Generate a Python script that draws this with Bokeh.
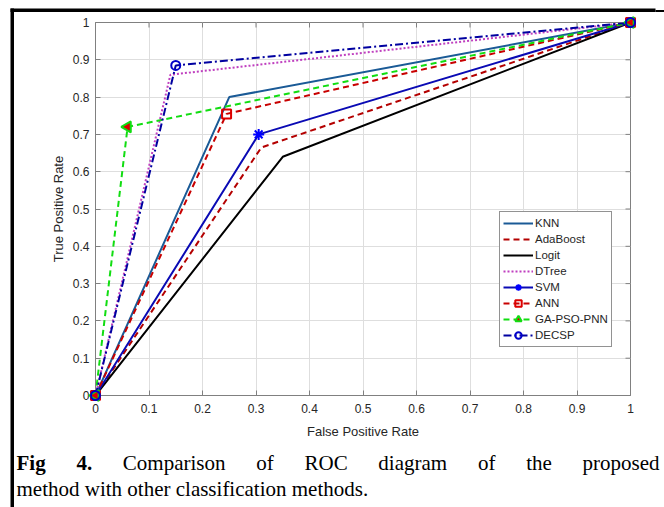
import numpy as np
from bokeh.plotting import figure
from bokeh.models import Range1d, Legend, LegendItem, FixedTicker
from bokeh.core.properties import value
from bokeh.embed import file_html
from bokeh.resources import INLINE

# ---------------- data ----------------
methods = ["KNN", "AdaBoost", "Logit", "DTree", "SVM", "ANN", "GA-PSO-PNN", "DECSP"]
fpr_knn = [0, 0.25, 1];    tpr_knn = [0, 0.80, 1]
fpr_ada = [0, 0.31, 1];    tpr_ada = [0, 0.665, 1]
fpr_logit = [0, 0.35, 1];  tpr_logit = [0, 0.64, 1]
fpr_dtree = [0, 0.14, 1];  tpr_dtree = [0, 0.86, 1]
fpr_svm = [0, 0.305, 1];   tpr_svm = [0, 0.70, 1]
fpr_ann = [0, 0.245, 1];   tpr_ann = [0, 0.755, 1]
fpr_ga = [0, 0.06, 1];     tpr_ga = [0, 0.72, 1]
fpr_decsp = [0, 0.15, 1];  tpr_decsp = [0, 0.885, 1]

ticks = [0, 0.1, 0.2, 0.3, 0.4, 0.5, 0.6, 0.7, 0.8, 0.9, 1]
tick_labels = ["0", "0.1", "0.2", "0.3", "0.4", "0.5", "0.6", "0.7", "0.8", "0.9", "1"]
x_title = "False Positive Rate"
y_title = "True Positive Rate"
caption_bold = ["Fig", "4."]
caption_line1 = ["Comparison", "of", "ROC", "diagram", "of", "the", "proposed"]
caption_line2 = "method with other classification methods."

# ---------------- geometry ----------------
W, H = 664, 507
L, R, T, B = 95, 630, 22, 395


def xd(px):
    return (px - L) / (R - L)


def yd(py):
    return (B - py) / (B - T)


p = figure(width=W, height=H, x_range=Range1d(0, 1), y_range=Range1d(0, 1),
           output_backend="svg", toolbar_location=None,
           min_border_left=L, min_border_right=W - R,
           min_border_top=T, min_border_bottom=H - B)
p.background_fill_color = "white"
p.border_fill_color = "white"
axis_color = "#808080"
lab_color = "#262626"
p.outline_line_color = axis_color

for ax in [p.xaxis[0], p.yaxis[0]]:
    ax.ticker = FixedTicker(ticks=ticks)
    ax.major_label_overrides = {t: s for t, s in zip(ticks, tick_labels)}
    ax.major_tick_in = 5
    ax.major_tick_out = 0
    ax.minor_tick_line_color = None
    ax.axis_line_color = axis_color
    ax.major_tick_line_color = axis_color
    ax.major_label_text_font = "Liberation Sans"
    ax.major_label_text_font_size = "12px"
    ax.major_label_text_color = lab_color
    ax.axis_label_text_font = "Liberation Sans"
    ax.axis_label_text_font_size = "13px"
    ax.axis_label_text_font_style = "normal"
    ax.axis_label_text_color = lab_color
p.xaxis.axis_label = x_title
p.yaxis.axis_label = y_title
p.xaxis.major_label_standoff = 8
p.yaxis.major_label_standoff = 6
p.xaxis.axis_label_standoff = 8
p.yaxis.axis_label_standoff = 4

p.xgrid.ticker = FixedTicker(ticks=ticks)
p.ygrid.ticker = FixedTicker(ticks=ticks)
p.xgrid.grid_line_color = "#dedede"
p.ygrid.grid_line_color = "#dedede"

# tick marks on the top and right edges of the box (inward, 5 px)
n = len(ticks)
p.segment(x0=ticks, y0=[1] * n, x1=ticks, y1=[1 - 5 / (B - T)] * n,
          line_color=axis_color, line_width=1)
p.segment(x0=[1] * n, y0=ticks, x1=[1 - 5 / (R - L)] * n, y1=ticks,
          line_color=axis_color, line_width=1)

# ---------------- series ----------------
series = [
    (fpr_knn, tpr_knn, "#1a5a96", "solid", None, None, None),
    (fpr_ada, tpr_ada, "#b40000", "6 4", None, None, None),
    (fpr_logit, tpr_logit, "#000000", "solid", None, None, None),
    (fpr_dtree, tpr_dtree, "#bf3fbf", "2 2", None, None, None),
    (fpr_svm, tpr_svm, "#0a0ab4", "solid", "asterisk", "#0000ff", None),
    (fpr_ann, tpr_ann, "#c80000", "6 4", "square", "#dd0000", None),
    (fpr_ga, tpr_ga, "#11dd11", "6 4", "triangle", "#11dd11", "#e00000"),
    (fpr_decsp, tpr_decsp, "#0000a0", "8 3 2 3", "circle", "#0000c8", None),
]

items = []
for name, (xs, ys, col, dash, mk, mcol, mfill) in zip(methods, series):
    rends = [p.line(xs, ys, line_color=col, line_width=2, line_dash=dash)]
    if mk is not None:
        angle = np.pi / 2 if mk == "triangle" else 0
        size = 11 if mk in ("asterisk", "triangle") else 9
        sr = p.scatter(xs, ys, marker=mk, size=size, angle=angle,
                       line_color=mcol, line_width=2,
                       fill_color=mfill if mfill else None,
                       fill_alpha=1 if mfill else 0, level="overlay")
        rends.append(sr)
    items.append(LegendItem(label=name, renderers=rends))

legend = Legend(items=items, location=(404, 48))
legend.border_line_color = "#262626"
legend.border_line_width = 1
legend.background_fill_color = "white"
legend.background_fill_alpha = 1
legend.label_text_font = "Liberation Sans"
legend.label_text_font_size = "11.5px"
legend.label_text_color = lab_color
legend.glyph_width = 30
legend.glyph_height = 16
legend.label_height = 16
legend.label_standoff = 2
legend.spacing = 0
legend.padding = 3
legend.margin = 0
p.add_layout(legend)

# ---------------- black frame rules of the figure box (pixel positions) ----------------
rules_l = [10, 655, 10]
rules_r = [655, W + 2, 13.5]
rules_t = [8, 9.5, 8]
rules_b = [11.5, 11.5, H + 2]
p.quad(left=[xd(v) for v in rules_l], right=[xd(v) for v in rules_r],
       top=[yd(v) for v in rules_t], bottom=[yd(v) for v in rules_b],
       fill_color="black", line_color=None, level="overlay")

# ---------------- caption (justified first line) ----------------
fs = 21
reg = {" ": 250, ".": 250, "C": 667, "O": 722, "R": 667, "a": 444, "c": 444, "d": 500,
       "e": 444, "f": 333, "g": 500, "h": 500, "i": 278, "l": 278, "m": 778, "n": 500,
       "o": 500, "p": 500, "r": 333, "s": 389, "t": 278, "w": 722}
bold = {"F": 611, "i": 278, "g": 500, "4": 500, ".": 250, " ": 250}


def width(word, table):
    return sum(table[c] for c in word) * fs / 1000.0


words = [(w_, True) for w_ in caption_bold] + [(w_, False) for w_ in caption_line1]
x0, x1 = 16, 659
tot = sum(width(w_, bold if b else reg) for w_, b in words)
gap = (x1 - x0 - tot) / (len(words) - 1)
bx, bt, rx, rt = [], [], [], []
xpos = x0
for w_, b in words:
    if b:
        bx.append(xd(xpos)); bt.append(w_)
    else:
        rx.append(xd(xpos)); rt.append(w_)
    xpos += width(w_, bold if b else reg) + gap

base1, base2 = yd(462), yd(488)
common = dict(text_font=value("Liberation Serif"), text_font_size=value(f"{fs}px"),
              text_color="black", text_baseline="alphabetic", text_align="left",
              level="overlay")
p.text(x=bx, y=[base1] * len(bx), text=bt, text_font_style="bold", **common)
p.text(x=rx, y=[base1] * len(rx), text=rt, **common)
p.text(x=[xd(x0)], y=[base2], text=[caption_line2], **common)

open("out.html", "w").write(file_html(p, INLINE))
